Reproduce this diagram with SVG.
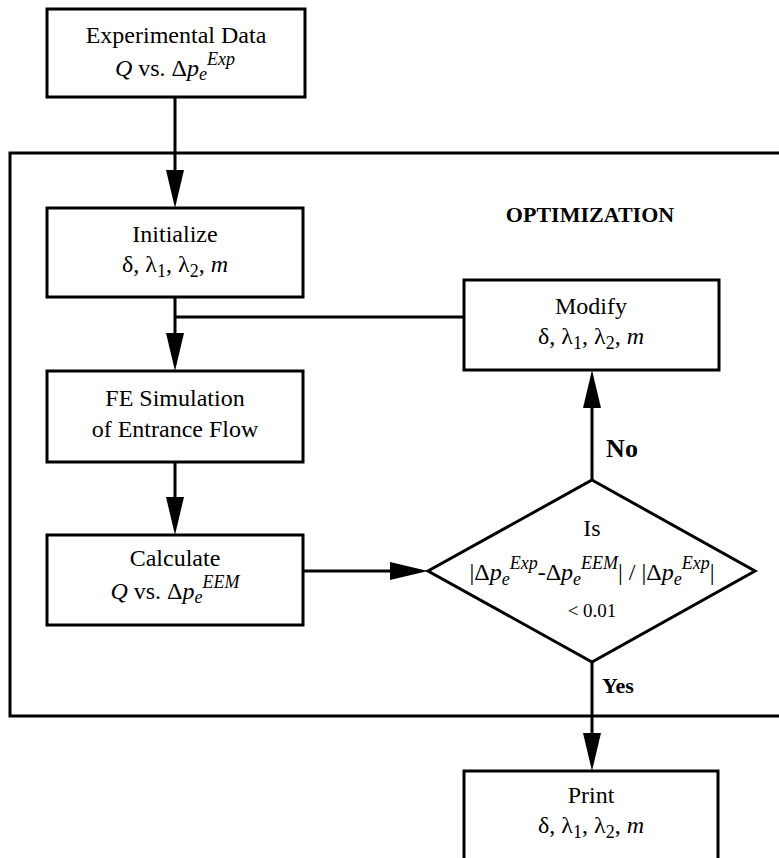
<svg xmlns="http://www.w3.org/2000/svg" width="779" height="858" viewBox="0 0 779 858">
<style>
.box{fill:#fff;stroke:#000;stroke-width:3}
.ln{fill:none;stroke:#000;stroke-width:3}
text{font-family:"Liberation Serif","Times New Roman",serif;font-size:24px;fill:#000;text-anchor:middle}
.i{font-style:italic}
.s{font-size:18px}
.b{font-weight:bold}
</style>
<defs>
<marker id="ah" viewBox="0 0 38 18" markerWidth="38" markerHeight="18" refX="28" refY="9" orient="auto" markerUnits="userSpaceOnUse">
<path d="M0,0 L38,9 L0,18 z" fill="#000"/>
</marker>
</defs>
<rect width="779" height="858" fill="#fff"/>
<g id="frame">
<path class="ln" d="M790,153 H10 V716 H790"/>
<text class="b" x="590" y="222" style="font-size:22px">OPTIMIZATION</text>
</g>
<g id="connectors">
<path class="ln" d="M175,97 V198" marker-end="url(#ah)"/>
<path class="ln" d="M175,297 V361" marker-end="url(#ah)"/>
<path class="ln" d="M464,317 H175"/>
<path class="ln" d="M175,462 V525" marker-end="url(#ah)"/>
<path class="ln" d="M303,571 H418" marker-end="url(#ah)"/>
<path class="ln" d="M592,480 V380" marker-end="url(#ah)"/>
<path class="ln" d="M592,662 V761" marker-end="url(#ah)"/>
<text class="b" x="622" y="457" style="font-size:26px">No</text>
<text class="b" x="618" y="693" style="font-size:22px">Yes</text>
</g>
<g id="experimental">
<rect class="box" x="47" y="9" width="258" height="88"/>
<text x="176" y="43">Experimental Data</text>
<text x="175" y="76"><tspan class="i">Q</tspan> vs. Δ<tspan class="i">p</tspan><tspan class="i s" dy="4">e</tspan><tspan class="i s" dy="-15">Exp</tspan></text>
</g>
<g id="initialize">
<rect class="box" x="47" y="208" width="256" height="89"/>
<text x="175" y="242">Initialize</text>
<text x="175" y="272">δ, λ<tspan class="s" dy="5">1</tspan><tspan dy="-5">, λ</tspan><tspan class="s" dy="5">2</tspan><tspan dy="-5">, </tspan><tspan class="i">m</tspan></text>
</g>
<g id="modify">
<rect class="box" x="464" y="280" width="255" height="90"/>
<text x="591" y="314">Modify</text>
<text x="591" y="344">δ, λ<tspan class="s" dy="5">1</tspan><tspan dy="-5">, λ</tspan><tspan class="s" dy="5">2</tspan><tspan dy="-5">, </tspan><tspan class="i">m</tspan></text>
</g>
<g id="fe">
<rect class="box" x="47" y="371" width="256" height="91"/>
<text x="175" y="406">FE Simulation</text>
<text x="175" y="437">of Entrance Flow</text>
</g>
<g id="calculate">
<rect class="box" x="47" y="535" width="256" height="90"/>
<text x="175" y="566">Calculate</text>
<text x="175" y="599"><tspan class="i">Q</tspan> vs. Δ<tspan class="i">p</tspan><tspan class="i s" dy="4">e</tspan><tspan class="i s" dy="-15">EEM</tspan></text>
</g>
<g id="decision">
<polygon class="box" points="592,480 755,571 592,662 428,571"/>
<text x="592" y="536">Is</text>
<text x="592" y="580">|Δ<tspan class="i">p</tspan><tspan class="i s" dy="5">e</tspan><tspan class="i s" dy="-16">Exp</tspan><tspan dy="11">-Δ</tspan><tspan class="i">p</tspan><tspan class="i s" dy="5">e</tspan><tspan class="i s" dy="-16">EEM</tspan><tspan dy="11">| / |Δ</tspan><tspan class="i">p</tspan><tspan class="i s" dy="5">e</tspan><tspan class="i s" dy="-16">Exp</tspan><tspan dy="11">|</tspan></text>
<text x="592" y="617" style="font-size:19px">&lt; 0.01</text>
</g>
<g id="print">
<rect class="box" x="464" y="771" width="254" height="100"/>
<text x="591" y="803">Print</text>
<text x="591" y="833">δ, λ<tspan class="s" dy="5">1</tspan><tspan dy="-5">, λ</tspan><tspan class="s" dy="5">2</tspan><tspan dy="-5">, </tspan><tspan class="i">m</tspan></text>
</g>
</svg>
